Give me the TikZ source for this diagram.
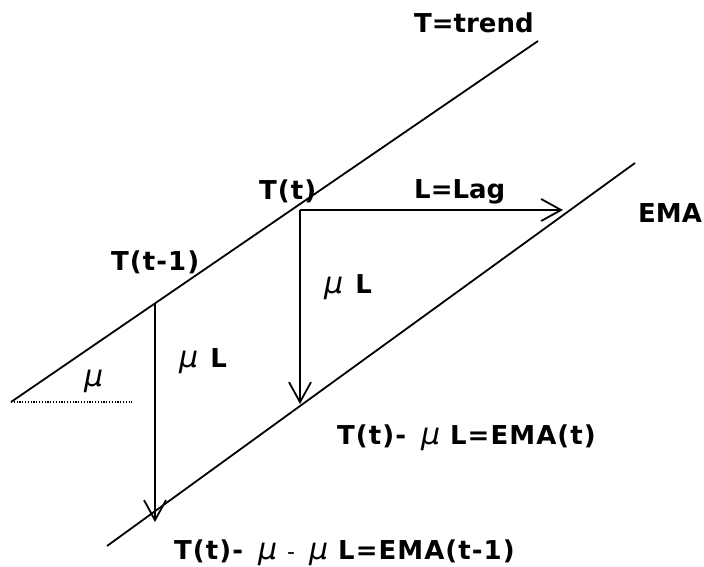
\documentclass[tikz,border=0pt]{standalone}
\usepackage{fontspec}
\setmainfont{DejaVu Sans}
\newfontfamily\mufont{DejaVu Sans}
\newfontfamily\widefont{DejaVu Sans}[LetterSpace=4]
\usetikzlibrary{arrows.meta}
\newcommand{\mym}{{\mufont\fontsize{30}{32}\selectfont\itshape\mdseries μ}}
\newcommand{\smallhy}{{\mufont\fontsize{22}{24}\selectfont\mdseries -}}
\tikzset{
  ln/.style={line width=1.8pt},
  arr/.style={line width=1.8pt,-{Straight Barb[length=20pt,width=22pt,line width=1.8pt]}},
  lbl/.style={inner sep=0pt,anchor=base west,font=\fontsize{26}{30}\selectfont\bfseries},
  wlbl/.style={lbl,font=\fontsize{26}{30}\selectfont\widefont\bfseries},
  dotline/.style={line width=1.2pt,dash pattern=on 1.2pt off 1.6pt}
}
\begin{document}
\begin{tikzpicture}[x=1pt,y=-1pt]
\useasboundingbox (0,0) rectangle (704,566);
% lines
\coordinate (ts) at (11,402);
\coordinate (te) at (538,41);
\coordinate (es) at (107,546);
\coordinate (ee) at (635,163);
\coordinate (dl) at (132,402);
\coordinate (a1) at (155,304);
\coordinate (a2) at (155,522);
\coordinate (b1) at (300,210);
\coordinate (b2) at (300,404);
\coordinate (c2) at (563,210);
\draw[ln] (ts) -- (te);
\draw[ln] (es) -- (ee);
\draw[dotline] (ts) -- (dl);
\draw[arr] (a1) -- (a2);
\draw[arr] (b1) -- (b2);
\draw[arr] (b1) -- (c2);
% labels
\node[lbl] (ttrend) at (414,32) {T=trend};
\node[wlbl] (tt) at (259,199) {T(t)};
\node[lbl] (lag) at (414,198) {L=Lag};
\node[lbl] (ema) at (638,222) {EMA};
\node[wlbl] (tt1) at (111,270) {T(t-1)};
\node[lbl] (mul1) at (324,293) {\mym\hspace{12pt}L};
\node[lbl] (mul2) at (179,367) {\mym\hspace{12pt}L};
\node[lbl] (mu) at (84,386) {\mym};
\node[wlbl] (emat) at (337,444) {T(t)-\hspace{15pt}\mym\hspace{10pt}L=EMA(t)};
\node[wlbl] (emat1) at (174,559) {T(t)-\hspace{15pt}\mym\hspace{10pt}\smallhy\hspace{14pt}\mym\hspace{10pt}L=EMA(t-1)};
\end{tikzpicture}
\end{document}
